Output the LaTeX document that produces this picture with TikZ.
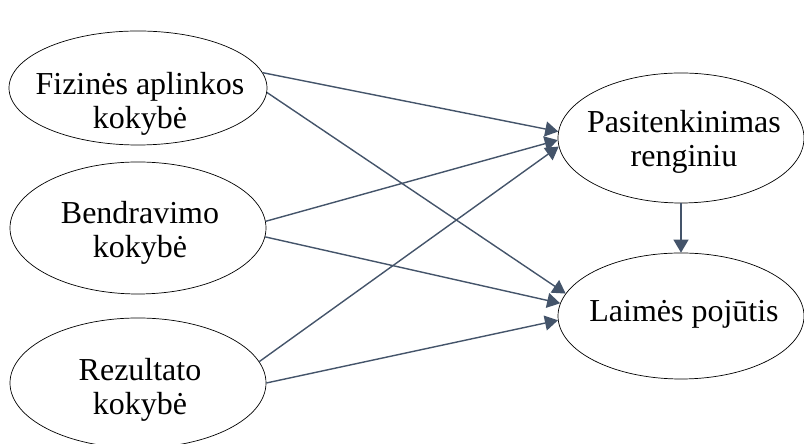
\documentclass[tikz,border=0pt]{standalone}
\usepackage{fontspec}
\setmainfont{Liberation Serif}
\usetikzlibrary{arrows.meta,shapes.geometric}
\definecolor{linkcol}{HTML}{44546A}

\begin{document}
\begin{tikzpicture}[
	oval/.style={draw, ellipse, line width=0.6pt, inner sep=0pt},
	txt/.style={align=center, font=\fontsize{27.3}{29}\selectfont},
	link/.style={draw=linkcol, line width=1.2pt, -{Triangle[length=0.39cm, width=0.45cm]}}
	]
			%%%%% START %%%%%
			
			\useasboundingbox (0, 0) rectangle (24.12, 13.32);
			
			\node[oval, minimum width=7.74cm, minimum height=3.42cm] (fiz) at (4.14, 10.68) {};
			\node[oval, minimum width=7.68cm, minimum height=3.96cm] (ben) at (4.14, 6.48) {};
			\node[oval, minimum width=7.68cm, minimum height=3.9cm] (rez) at (4.14, 1.83) {};
			\node[oval, minimum width=7.38cm, minimum height=3.9cm] (pas) at (20.43, 9.18) {};
			\node[oval, minimum width=7.38cm, minimum height=3.78cm] (lai) at (20.43, 3.84) {};
			
			\node[txt] (fizt) at (4.2, 10.2) {Fizinės aplinkos\\kokybė};
			\node[txt] (bent) at (4.2, 6.32) {Bendravimo\\kokybė};
			\node[txt] (rezt) at (4.2, 1.62) {Rezultato\\kokybė};
			\node[txt] (past) at (20.52, 9.05) {Pasitenkinimas\\renginiu};
			\node[txt] (lait) at (20.52, 3.89) {Laimės pojūtis};
			
			\draw[link] (fiz.7) -- (pas.177);
			\draw[link] (fiz.-2) -- (lai.169);
			\draw[link] (ben.3) -- (pas.181);
			\draw[link] (ben.-4) -- (lai.174);
			\draw[link] (rez.10) -- (pas.184);
			\draw[link] (rez.0) -- (lai.182);
			\draw[link] (pas.south) -- (lai.north);
			
			%%%%% END %%%%%
		\end{tikzpicture}
\end{document}
